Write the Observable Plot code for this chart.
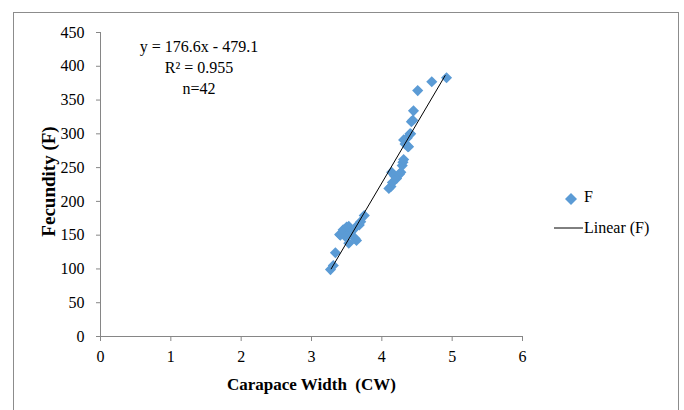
<!DOCTYPE html>
<html>
<head>
<meta charset="utf-8">
<script src="https://cdn.jsdelivr.net/npm/d3@7"></script>
<script src="https://cdn.jsdelivr.net/npm/@observablehq/plot@0.6"></script>
<style>
  html, body { margin: 0; padding: 0; background: #fff; }
  #wrap { position: relative; width: 684px; height: 410px; overflow: hidden; font-family: "Liberation Serif", "Times New Roman", serif; }
  #chart svg, #chart svg text { font-family: "Liberation Serif", "Times New Roman", serif !important; }
  #frame { position: absolute; left: 13px; top: 12px; width: 666px; height: 420px; border: 1px solid #8c8c8c; box-sizing: border-box; pointer-events: none; }
  .leg { position: absolute; font-size: 16px; color: #000; font-family: "Liberation Serif", serif; }
</style>
</head>
<body>
<div id="wrap">
  <div id="chart"></div>
  <div id="frame"></div>
  <svg class="leg" style="left:563px; top:191px;" width="16" height="16"><path d="M8,2L14,8L8,14L2,8Z" fill="#5B9BD5"/></svg>
  <div class="leg" style="left:584px; top:188px;">F</div>
  <svg class="leg" style="left:554px; top:226px;" width="30" height="4"><line x1="0" y1="2" x2="29" y2="2" stroke="#000" stroke-width="1"/></svg>
  <div class="leg" style="left:584px; top:219px;">Linear (F)</div>
</div>
<script>
// Carapace width (CW) values
const cw = [3.27, 3.31, 3.34, 3.40, 3.41, 3.45, 3.48, 3.50, 3.53, 3.53, 3.56, 3.58, 3.62, 3.64, 3.64, 3.68, 3.70, 3.75,
            4.10, 4.13, 4.14, 4.15, 4.18, 4.21, 4.25, 4.27, 4.29, 4.30, 4.31, 4.31, 4.33, 4.36, 4.37, 4.38, 4.40, 4.41, 4.42, 4.44, 4.45, 4.51, 4.71, 4.92];
// Fecundity (F) values
const fec = [99, 105, 124, 151, 150, 158, 148, 162, 163, 138, 154, 157, 145, 142, 163, 165, 170, 179,
             219, 222, 243, 228, 238, 234, 240, 243, 253, 258, 262, 291, 285, 294, 281, 281, 300, 300, 318, 320, 334, 364, 377, 383];
const slope = 176.6, intercept = -479.1;
const fitX = [3.28, 4.9];
const xTicks = [0, 1, 2, 3, 4, 5, 6];
const yTicks = [0, 50, 100, 150, 200, 250, 300, 350, 400, 450];
const eqLines = ["y = 176.6x - 479.1", "R² = 0.955", "n=42"];
const eqY = [428, 397, 366];

const pts = cw.map((x, i) => ({x, y: fec[i]}));
const fit = fitX.map(x => ({x, y: slope * x + intercept}));
const eq = eqLines.map((t, i) => ({t, y: eqY[i]}));

const plot = Plot.plot({
  width: 684,
  height: 410,
  marginLeft: 100,
  marginRight: 162,
  marginTop: 32,
  marginBottom: 74,
  style: { fontFamily: "Liberation Serif, serif", fontSize: "16px", background: "transparent", color: "#000" },
  x: { domain: [0, 6] },
  y: { domain: [0, 450] },
  marks: [
    Plot.ruleY([0], { stroke: "#868686" }),
    Plot.ruleX([0], { stroke: "#868686" }),
    Plot.axisX({ ticks: xTicks, tickFormat: "d", tickSize: 5, tickPadding: 9, stroke: "#868686", fill: "#000", fontSize: 16, label: null }),
    Plot.axisY({ ticks: yTicks, tickFormat: "d", tickSize: 4, tickPadding: 12, stroke: "#868686", fill: "#000", fontSize: 16, label: null }),
    Plot.dot(pts, { x: "x", y: "y", symbol: "diamond2", r: 5, fill: "#5B9BD5", stroke: "none" }),
    Plot.line(fit, { x: "x", y: "y", stroke: "#000", strokeWidth: 1 }),
    Plot.text(eq, { x: 1.4, y: "y", text: "t", fontSize: 16, fill: "#000" }),
    Plot.text(["Carapace Width  (CW)"], { frameAnchor: "bottom", textAnchor: "middle", lineAnchor: "middle", dy: 48, fontWeight: "bold", fontSize: 17, fill: "#000" }),
    Plot.text(["Fecundity (F)"], { frameAnchor: "left", textAnchor: "middle", lineAnchor: "middle", dx: -52, dy: -3, rotate: -90, fontWeight: "bold", fontSize: 19, fill: "#000" })
  ]
});
document.getElementById("chart").appendChild(plot);
</script>
</body>
</html>
